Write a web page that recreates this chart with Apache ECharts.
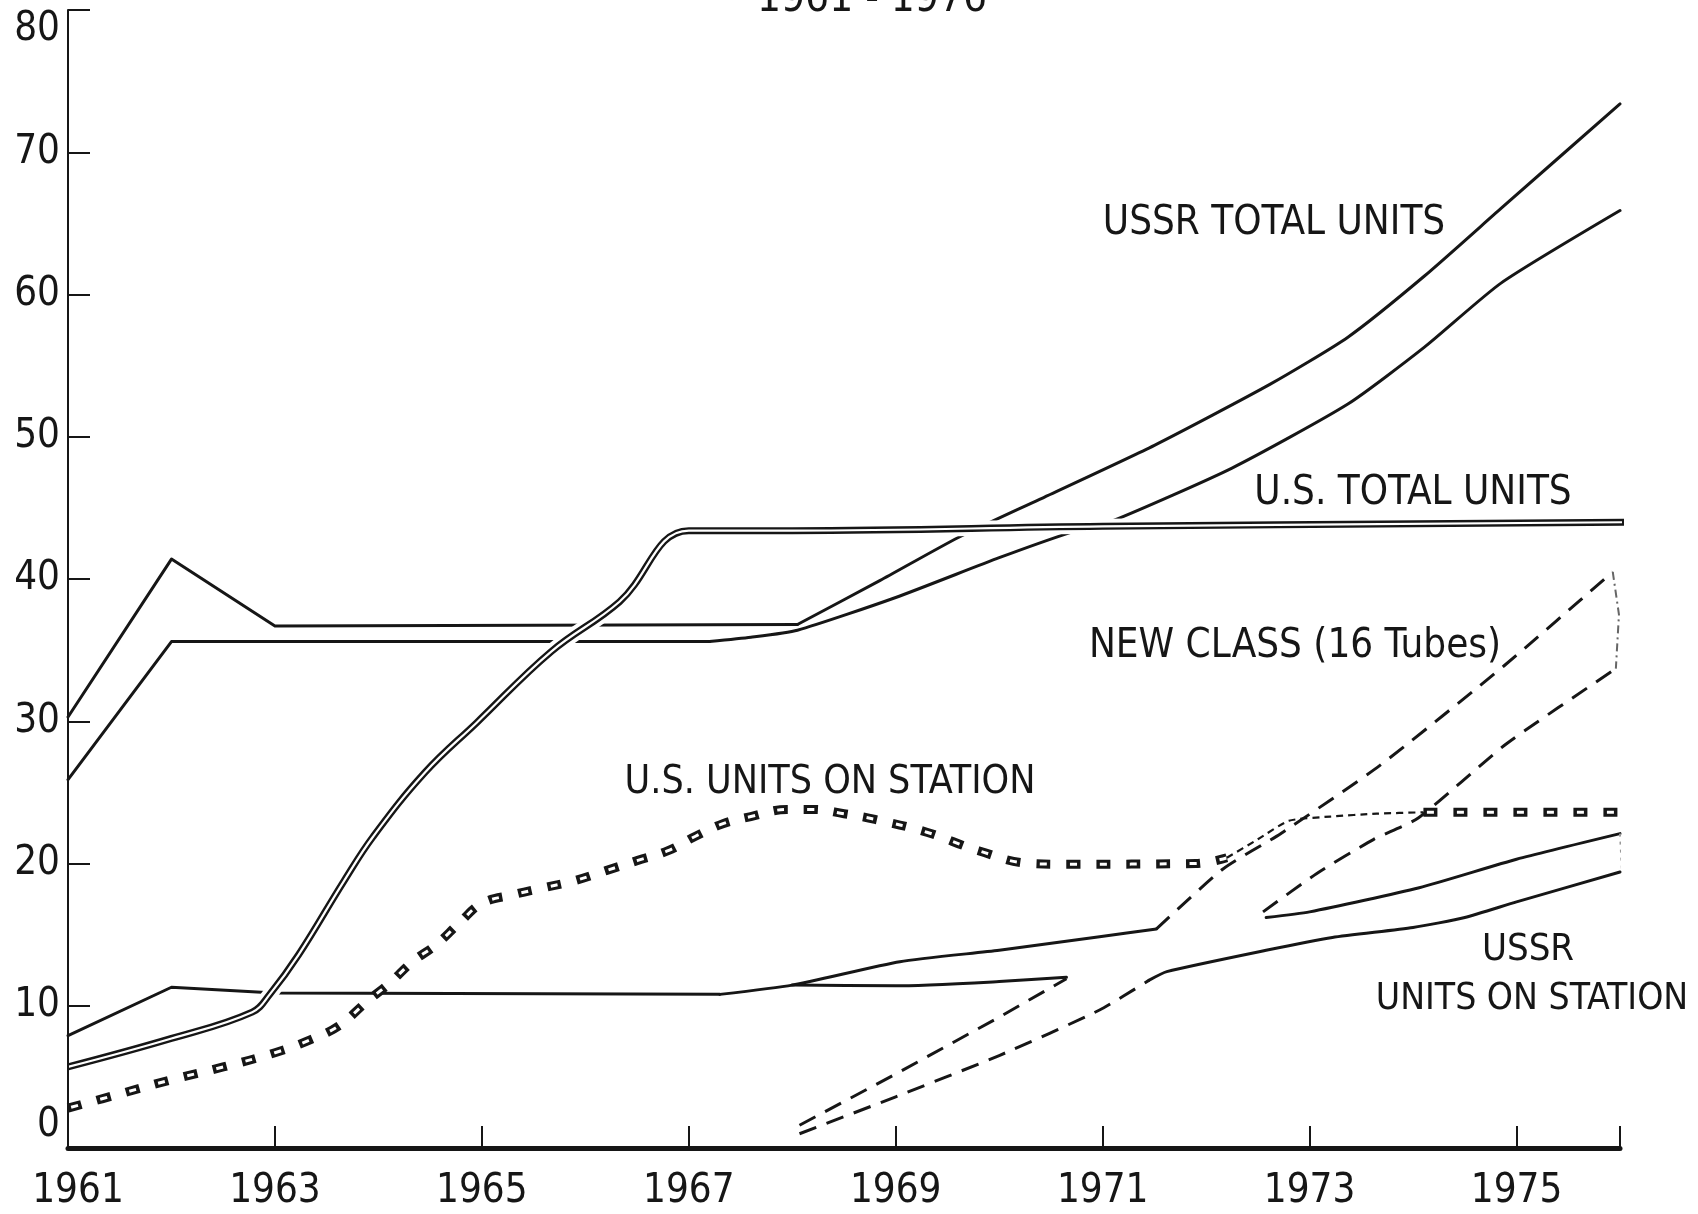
<!DOCTYPE html>
<html><head><meta charset="utf-8">
<script src="https://cdn.jsdelivr.net/npm/echarts@6/dist/echarts.min.js"></script>
<style>html,body{margin:0;padding:0;background:#fff}#c{width:1698px;height:1214px}</style>
</head><body><div id="c"></div>
<script>
// ---- data (year, units) ----
const BASE_YEAR = 1961;
const xTickLabels = ['1961','1963','1965','1967','1969','1971','1973','1975'];
const yTickValues = [0,10,20,30,40,50,60,70,80];

const ussrTotalHigh = [[1961,30.3],[1962,41.4],[1963,36.7],[1968.05,36.8],[1968.85,39.9],[1969.6,42.9],[1970.39,45.6],[1971.5,49.4],[1972.62,53.7],[1973.37,57.0],[1974.11,61.3],[1974.85,66.05],[1976,73.4]];
const ussrTotalLow = [[1961,25.9],[1962,35.6],[1967.2,35.6],[1967.6,35.9],[1968.05,36.4],[1969,38.7],[1970,41.5],[1970.7,43.3],[1971.1,44.1],[1972.25,47.8],[1973.37,52.3],[1974.11,56.3],[1974.85,60.8],[1976,65.9]];
const usTotal = [[1961,5.7],[1962,7.7],[1962.78,9.55],[1962.95,10.8],[1963.23,13.6],[1963.67,18.8],[1963.95,21.9],[1964.45,26.4],[1964.95,29.9],[1965.67,34.9],[1966.33,38.4],[1967,43.4],[1968,43.4],[1971,43.7],[1976.2,44.0]];
const usStation = [[1961,2.8],[1961.5,3.8],[1962,4.8],[1962.5,5.7],[1963,6.7],[1963.34,7.6],[1963.62,8.6],[1963.89,10.3],[1964.11,11.6],[1964.33,13.1],[1964.56,14.3],[1964.78,15.8],[1965,17.2],[1965.3,17.8],[1965.6,18.3],[1965.9,18.8],[1966.2,19.5],[1966.5,20.2],[1966.8,20.9],[1967.06,21.9],[1967.33,22.8],[1967.6,23.3],[1967.95,23.8],[1968.2,23.8],[1968.5,23.5],[1968.8,23.1],[1969.3,22.2],[1969.8,20.9],[1970.3,20.0],[1970.65,19.95],[1971.9,20.0],[1972.2,20.4]];
const usStationLink = [[1972.2,20.4],[1972.5,21.7],[1972.8,23.0],[1973.2,23.3],[1973.65,23.5],[1974.1,23.6]];
const usStationLate = [[1974.1,23.6],[1976.24,23.6]];
const ussrStationHigh1 = [[1961,7.9],[1962,11.3],[1963,10.9],[1967.3,10.8],[1968,11.45],[1969.04,13.1],[1970,13.9],[1970.97,14.85],[1971.52,15.4]];
const ussrStationLow1 = [[1968,11.45],[1969,11.4],[1970,11.7],[1970.65,12.0]];
const ussrStationHigh2 = [[1972.58,16.2],[1973,16.6],[1974.06,18.3],[1975,20.3],[1976,22.1]];
const ussrStationLow2 = [[1971.45,11.8],[1971.62,12.4],[1972.58,13.9],[1973.22,14.8],[1974,15.5],[1974.5,16.2],[1975,17.3],[1976,19.4]];
const newClassUpperLeft = [[1968.07,1.6],[1969,5.2],[1970,9.2],[1970.65,11.9]];
const newClassLowerLeft = [[1968.07,1.0],[1969,3.6],[1970,6.5],[1970.97,9.7],[1971.45,11.8]];
const newClassUpperRight = [[1971.52,15.4],[1972.16,19.6],[1972.72,22.1],[1973.68,26.9],[1974.88,33.9],[1975.93,40.5]];
const newClassLowerRight = [[1972.55,16.6],[1973.07,19.3],[1973.62,21.7],[1974.05,23.2],[1974.9,28.4],[1975.96,33.7]];
const endLinkTotal = [[1976.03,73.4],[1976.06,65.9]];
const endLinkNew = [[1975.93,40.5],[1975.99,37.5],[1975.96,33.7]];
const endLinkStation = [[1976,22.1],[1976.02,19.4]];

// ---- chart ----
const FONT = "'Liberation Sans Narrow','DejaVu Sans Condensed','Roboto Condensed','Arial Narrow',sans-serif";
const INK = '#161616';
const toX = d => d.map(p => [p[0] - BASE_YEAR, p[1]]);
function line(data, style, extra) {
  return Object.assign({
    type: 'line', data: toX(data), symbol: 'none', clip: false, silent: true, smooth: false,
    lineStyle: Object.assign({ color: INK, width: 3, cap: 'round', join: 'round' }, style)
  }, extra || {});
}
// straight (cornered) part up to a year, smoothed part after it
function kinked(data, year, style) {
  const k = data.findIndex(p => p[0] === year);
  return [line(data.slice(0, k + 1), style), line(data.slice(k), style, { smooth: 0.2 })];
}
const dashed = { width: 3, type: [18, 11], cap: 'butt' };
const soft = { smooth: 0.2 };
const curvy = { smooth: 0.4 };

const series = [
  ...kinked(ussrTotalHigh, 1968.05, {}),
  ...kinked(ussrTotalLow, 1967.2, {}),
  ...kinked(ussrStationHigh1, 1967.3, {}),
  line(ussrStationLow1, {}, soft),
  line(ussrStationHigh2, {}, soft),
  line(ussrStationLow2, {}, soft),
  line(newClassUpperLeft, dashed),
  line(newClassLowerLeft, dashed, soft),
  line(newClassUpperRight, dashed, soft),
  line(newClassLowerRight, dashed, soft),
  line(endLinkTotal, { width: 2, color: '#888', type: [3, 5], cap: 'butt' }),
  line(endLinkNew, { width: 2, color: '#666', type: [8, 4, 2, 4], cap: 'butt' }),
  line(endLinkStation, { width: 2, color: '#999', type: [3, 5], cap: 'butt' }),
  line(usStationLink, { width: 2.2, type: [7, 5], cap: 'butt' }, soft),
  line(usStation, { width: 9, type: [14, 16], cap: 'butt', join: 'miter' }, curvy),
  line(usStation, { width: 3, color: '#fff', type: [7, 23], dashOffset: -3.5, cap: 'butt' }, curvy),
  line(usStationLate, { width: 9, type: [14, 16], cap: 'butt' }),
  line(usStationLate, { width: 3, color: '#fff', type: [7, 23], dashOffset: -3.5, cap: 'butt' }),
  line(usTotal, { width: 15, color: '#fff', cap: 'butt' }, curvy),
  line(usTotal, { width: 7, cap: 'butt' }, curvy),
  line(usTotal, { width: 2.2, color: '#fff', cap: 'butt' }, curvy)
];

const label = (text, x, y, size) => ({
  type: 'text', x: x, y: y, z: 50,
  style: { text: text, fill: INK, fontSize: size || 40, fontFamily: FONT, align: 'center', verticalAlign: 'middle' }
});

const chart = echarts.init(document.getElementById('c'), null, { renderer: 'canvas' });
chart.setOption({
  animation: false,
  backgroundColor: '#ffffff',
  grid: { left: 68, right: 78, top: 10, bottom: 66, containLabel: false },
  xAxis: {
    type: 'value', min: 0, max: 15, interval: 2, z: 10,
    splitLine: { show: false },
    axisLine: { show: true, lineStyle: { color: INK, width: 5 } },
    axisTick: { show: true, inside: true, length: 22, lineStyle: { color: INK, width: 2 } },
    axisLabel: {
      margin: 24, color: INK, fontSize: 40, fontFamily: FONT,
      formatter: v => {
        const s = String(Math.round(v + BASE_YEAR));
        if (!xTickLabels.includes(s)) return '';
        return s === '1961' ? '{first|' + s + '}' : s;
      },
      rich: { first: { fontSize: 40, fontFamily: FONT, color: INK, padding: [0, 0, 0, 20] } }
    }
  },
  yAxis: {
    type: 'value', min: yTickValues[0], max: yTickValues[yTickValues.length - 1], interval: 10, z: 10,
    splitLine: { show: false },
    axisLine: { show: true, lineStyle: { color: INK, width: 2 } },
    axisTick: { show: true, inside: true, length: 22, lineStyle: { color: INK, width: 2 } },
    axisLabel: {
      margin: 8, color: INK, fontSize: 40, fontFamily: FONT,
      formatter: v => v === 80 ? '{lo|80}' : (v === 0 ? '{hi|0}' : String(v)),
      rich: {
        lo: { fontSize: 40, fontFamily: FONT, color: INK, padding: [40, 0, 0, 0] },
        hi: { fontSize: 40, fontFamily: FONT, color: INK, padding: [0, 0, 44, 0] }
      }
    }
  },
  graphic: [
    { type: 'text', x: 872, y: 21, z: 50, style: { text: '1961 - 1976', fill: INK, fontSize: 42, fontFamily: FONT, align: 'center', verticalAlign: 'bottom' } },
    label('USSR TOTAL UNITS', 1274, 224),
    label('U.S. TOTAL UNITS', 1413, 494),
    label('NEW CLASS (16 Tubes)', 1295, 647),
    label('U.S. UNITS ON STATION', 830, 783, 39),
    label('USSR', 1528, 950, 38),
    label('UNITS ON STATION', 1532, 999, 37)
  ],
  series: series
});
</script>
</body></html>
